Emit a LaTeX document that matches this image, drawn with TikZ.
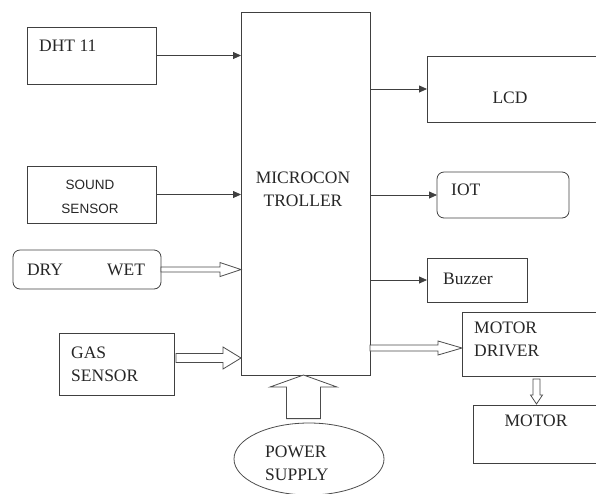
\documentclass[tikz,border=0pt]{standalone}
\usepackage{fontspec}
\setmainfont{Liberation Serif}
\newfontfamily\sansf{Liberation Sans}
\usetikzlibrary{arrows.meta,calc,shapes.geometric}
\newcommand\hollowH[5]{\path[hollow] let \p1=#1, \p2=#2 in (\x1,\y1+#3pt) -- (\x2-#5pt,\y1+#3pt) -- (\x2-#5pt,\y1+#4pt) -- (\x2,\y1) -- (\x2-#5pt,\y1-#4pt) -- (\x2-#5pt,\y1-#3pt) -- (\x1,\y1-#3pt) -- cycle;}
\newcommand\hollowU[5]{\path[hollow] let \p1=#1, \p2=#2 in (\x1-#3pt,\y1) -- (\x1-#3pt,\y2-#5pt) -- (\x1-#4pt,\y2-#5pt) -- (\x1,\y2) -- (\x1+#4pt,\y2-#5pt) -- (\x1+#3pt,\y2-#5pt) -- (\x1+#3pt,\y1) -- cycle;}
\newcommand\hollowD[5]{\path[hollow] let \p1=#1, \p2=#2 in (\x1-#3pt,\y1) -- (\x1-#3pt,\y2+#5pt) -- (\x1-#4pt,\y2+#5pt) -- (\x1,\y2) -- (\x1+#4pt,\y2+#5pt) -- (\x1+#3pt,\y2+#5pt) -- (\x1+#3pt,\y1) -- cycle;}
\begin{document}
\begin{tikzpicture}[x=1pt,y=-1pt,
  box/.style={draw=black!75, line width=0.8pt, inner sep=0pt, outer sep=0pt},
  rbox/.style={box, rounded corners=7pt},
  lbl/.style={inner sep=0pt, text=black!85, font=\fontsize{17.5}{23}\selectfont},
  slbl/.style={inner sep=0pt, text=black!85, font=\sansf\fontsize{13.5}{24}\selectfont},
  arr/.style={draw=black!75, line width=0.8pt, -{Triangle[length=8pt,width=7pt]}},
  hollow/.style={draw=black!70, line width=0.8pt, fill=white, line join=miter}]
\useasboundingbox (0,0) rectangle (596,493);
\clip (0,0) rectangle (596,493);
% boxes
\node[box, minimum width=129pt, minimum height=363pt] (micro) at (305.5,193.5) {};
\node[box, minimum width=129pt, minimum height=57pt] (dht) at (91.5,55.5) {};
\node[box, minimum width=129pt, minimum height=57pt] (sound) at (91.5,194.5) {};
\node[rbox, minimum width=148pt, minimum height=39pt] (drywet) at (87,269.5) {};
\node[box, minimum width=115pt, minimum height=62pt] (gas) at (116.5,364) {};
\node[box, minimum width=173pt, minimum height=66pt] (lcd) at (513.5,89) {};
\node[rbox, minimum width=132pt, minimum height=46pt] (iot) at (503,195) {};
\node[box, minimum width=100pt, minimum height=44pt] (buzzer) at (477,280) {};
\node[box, minimum width=138pt, minimum height=64pt] (driver) at (531,344) {};
\node[box, minimum width=127pt, minimum height=58pt] (motor) at (536.5,434) {};
\node[draw=black!70, line width=0.8pt, ellipse, minimum width=150pt, minimum height=72pt, inner sep=0pt] (power) at (309,459) {};
% texts
\node[lbl, anchor=west] (tdht) at (39,46) {DHT 11};
\node[slbl, align=center] (tsound) at (90,197) {SOUND\\SENSOR};
\node[lbl, align=center] (tmicro) at (303,189) {MICROCON\\TROLLER};
\node[lbl] (tdry) at (45,270) {DRY};
\node[lbl] (twet) at (126,270) {WET};
\node[lbl, align=left, anchor=west] (tgas) at (71,364) {GAS\\SENSOR};
\node[lbl] (tlcd) at (510,98) {LCD};
\node[lbl, anchor=west] (tiot) at (451,190) {IOT};
\node[lbl, anchor=west] (tbuzz) at (443,279) {Buzzer};
\node[lbl, align=left, anchor=west] (tdrv) at (474,339) {MOTOR\\DRIVER};
\node[lbl] (tmotor) at (536,421) {MOTOR};
\node[lbl, align=left, anchor=west] (tpow) at (265,463.5) {POWER\\SUPPLY};
% single arrows
\draw[arr] (dht.east) -- (dht.east -| micro.west);
\draw[arr] (sound.east) -- (sound.east -| micro.west);
\draw[arr] (micro.east |- lcd.west) -- (lcd.west);
\draw[arr] (micro.east |- iot.west) -- (iot.west);
\draw[arr] (micro.east |- buzzer.west) -- (buzzer.west);
% hollow arrows
\coordinate (dwS) at (drywet.east);
\coordinate (dwE) at (drywet.east -| micro.west);
\hollowH{(dwS)}{(dwE)}{2.5}{7}{21}
\coordinate (gsS) at ($(gas.east)+(2,-6)$);
\coordinate (gsE) at (gsS -| micro.west);
\hollowH{(gsS)}{(gsE)}{4.5}{11}{18}
\coordinate (drE) at ($(driver.west)+(0,4)$);
\coordinate (drS) at (drE -| micro.east);
\hollowH{(drS)}{(drE)}{3}{7}{24}
\coordinate (moS) at ($(motor.north |- driver.south)+(0,3)$);
\coordinate (moE) at ($(motor.north)+(0,-1)$);
\hollowD{(moS)}{(moE)}{3.5}{6}{9}
\coordinate (pwE) at ($(micro.south)+(-2,0)$);
\coordinate (pwS) at ($(pwE |- power.north)+(0,-4)$);
\hollowU{(pwS)}{(pwE)}{17}{33.5}{12}
\end{tikzpicture}
\end{document}
